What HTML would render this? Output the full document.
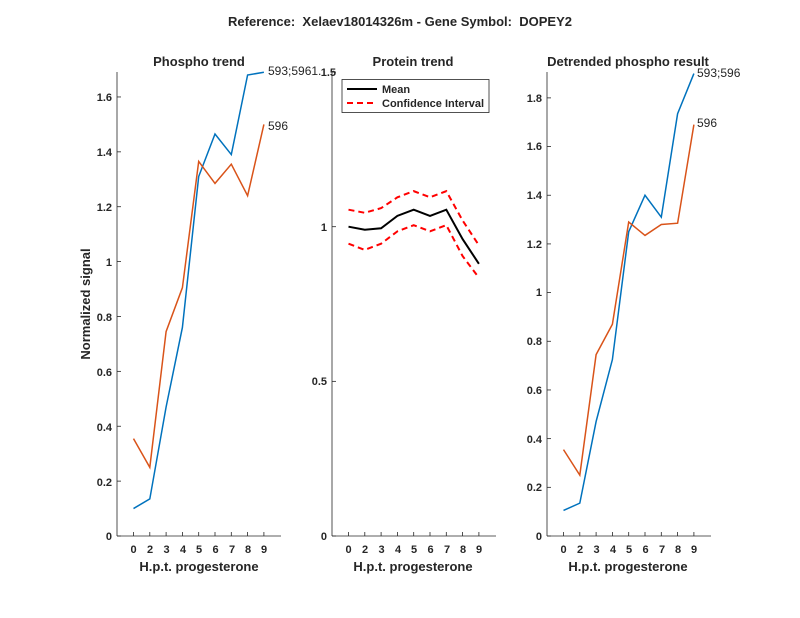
<!DOCTYPE html>
<html><head><meta charset="utf-8"><style>
html,body{margin:0;padding:0;background:#fff;}
svg{display:block;font-family:"Liberation Sans",Arial,sans-serif;}
text{fill:#262626;}
</style></head><body>
<svg id="s" width="800" height="618" viewBox="0 0 800 618" xmlns="http://www.w3.org/2000/svg">
<text x="400" y="26" font-size="13" font-weight="bold" text-anchor="middle" fill="#000">Reference:&#160; Xelaev18014326m - Gene Symbol:&#160; DOPEY2</text>
<text x="199" y="66" font-size="13" font-weight="bold" text-anchor="middle" fill="#000">Phospho trend</text>
<text x="413" y="66" font-size="13" font-weight="bold" text-anchor="middle" fill="#000">Protein trend</text>
<text x="628" y="66" font-size="13" font-weight="bold" text-anchor="middle" fill="#000">Detrended phospho result</text>
<text transform="translate(90,304) rotate(-90)" font-size="13" font-weight="bold" text-anchor="middle">Normalized signal</text>
<text x="199" y="571" font-size="13" font-weight="bold" text-anchor="middle">H.p.t. progesterone</text>
<text x="413" y="571" font-size="13" font-weight="bold" text-anchor="middle">H.p.t. progesterone</text>
<text x="628" y="571" font-size="13" font-weight="bold" text-anchor="middle">H.p.t. progesterone</text>
<g font-size="11" text-anchor="end" font-weight="bold">
<text x="112" y="540">0</text><text x="112" y="486">0.2</text><text x="112" y="431">0.4</text><text x="112" y="376">0.6</text><text x="112" y="321">0.8</text><text x="112" y="266">1</text><text x="112" y="211">1.2</text><text x="112" y="156">1.4</text><text x="112" y="101">1.6</text>
<text x="327" y="540">0</text><text x="327" y="385">0.5</text><text x="327" y="231">1</text><text x="336" y="76">1.5</text>
<text x="542" y="540">0</text><text x="542" y="491">0.2</text><text x="542" y="443">0.4</text><text x="542" y="394">0.6</text><text x="542" y="345">0.8</text><text x="542" y="296">1</text><text x="542" y="248">1.2</text><text x="542" y="199">1.4</text><text x="542" y="150">1.6</text><text x="542" y="102">1.8</text>
</g>
<g font-size="11" text-anchor="middle" font-weight="bold">
<text x="133.5" y="553">0</text><text x="150" y="553">2</text><text x="166.5" y="553">3</text><text x="183" y="553">4</text><text x="199" y="553">5</text><text x="215.5" y="553">6</text><text x="232" y="553">7</text><text x="248" y="553">8</text><text x="264" y="553">9</text>
<text x="348.5" y="553">0</text><text x="365" y="553">2</text><text x="381.5" y="553">3</text><text x="398" y="553">4</text><text x="414" y="553">5</text><text x="430.5" y="553">6</text><text x="447" y="553">7</text><text x="463" y="553">8</text><text x="479" y="553">9</text>
<text x="563.5" y="553">0</text><text x="580" y="553">2</text><text x="596.5" y="553">3</text><text x="613" y="553">4</text><text x="629" y="553">5</text><text x="645.5" y="553">6</text><text x="662" y="553">7</text><text x="678" y="553">8</text><text x="694" y="553">9</text>
</g>
<text x="268" y="75" font-size="12" fill="#000">593;5961.</text>
<text x="268" y="130" font-size="12" fill="#000">596</text>
<text x="697" y="77" font-size="12" fill="#000">593;596</text>
<text x="697" y="127" font-size="12" fill="#000">596</text>
<rect x="342" y="79.5" width="147" height="33" fill="#fff" stroke="#262626" stroke-width="0.8"/>
<line x1="347" y1="89" x2="377" y2="89" stroke="#000" stroke-width="2"/>
<line x1="347" y1="103" x2="377" y2="103" stroke="#f00" stroke-width="2" stroke-dasharray="6,4"/>
<text x="382" y="93" font-size="11" font-weight="bold" fill="#000">Mean</text>
<text x="382" y="107" font-size="11" font-weight="bold" fill="#000">Confidence Interval</text>
<g id="g"></g>
</svg>
<script>
var g=document.getElementById('g'),NS='http://www.w3.org/2000/svg';
function el(t,a){var e=document.createElementNS(NS,t);for(var k in a)e.setAttribute(k,a[k]);g.appendChild(e);}
var xs=[0,1,2,3,4,5,6,7,8];
function px(x0,i){return x0+i*16.3;}
function axes(L,x0,ticks,scale){
 el('line',{x1:L,y1:72,x2:L,y2:536,stroke:'#262626','stroke-width':0.8});
 el('line',{x1:L,y1:536,x2:L+164,y2:536,stroke:'#262626','stroke-width':0.8});
 ticks.forEach(function(v){var y=536-v*scale;el('line',{x1:L,y1:y,x2:L+4,y2:y,stroke:'#262626','stroke-width':0.8});});
 xs.forEach(function(i){var x=px(x0,i);el('line',{x1:x,y1:536,x2:x,y2:532,stroke:'#262626','stroke-width':0.8});});
}
function line(x0,d,scale,col,w,dash){var p=d.map(function(v,i){return px(x0,i)+','+(536-v*scale)}).join(' ');
 var a={points:p,fill:'none',stroke:col,'stroke-width':w};if(dash)a['stroke-dasharray']=dash;el('polyline',a);}
var s1=274.4,s2=309.3,s3=243.4;
axes(117,133.5,[0,.2,.4,.6,.8,1,1.2,1.4,1.6],s1);
axes(332,348.5,[0,.5,1,1.5],s2);
axes(547,563.5,[0,.2,.4,.6,.8,1,1.2,1.4,1.6,1.8],s3);
line(133.5,[0.10,0.135,0.47,0.76,1.31,1.465,1.39,1.68,1.69],s1,'#0072BD',1.5);
line(133.5,[0.355,0.25,0.745,0.905,1.365,1.285,1.355,1.24,1.50],s1,'#D95319',1.5);
line(348.5,[1.055,1.045,1.06,1.095,1.115,1.095,1.115,1.02,0.94],s2,'#f00',2,'6,4');
line(348.5,[0.945,0.925,0.945,0.985,1.005,0.985,1.005,0.905,0.835],s2,'#f00',2,'6,4');
line(348.5,[1.0,0.99,0.995,1.035,1.055,1.035,1.055,0.96,0.88],s2,'#000',2);
line(563.5,[0.105,0.135,0.47,0.725,1.25,1.40,1.31,1.735,1.90],s3,'#0072BD',1.5);
line(563.5,[0.355,0.25,0.745,0.87,1.29,1.235,1.28,1.285,1.69],s3,'#D95319',1.5);
</script>
</body></html>
